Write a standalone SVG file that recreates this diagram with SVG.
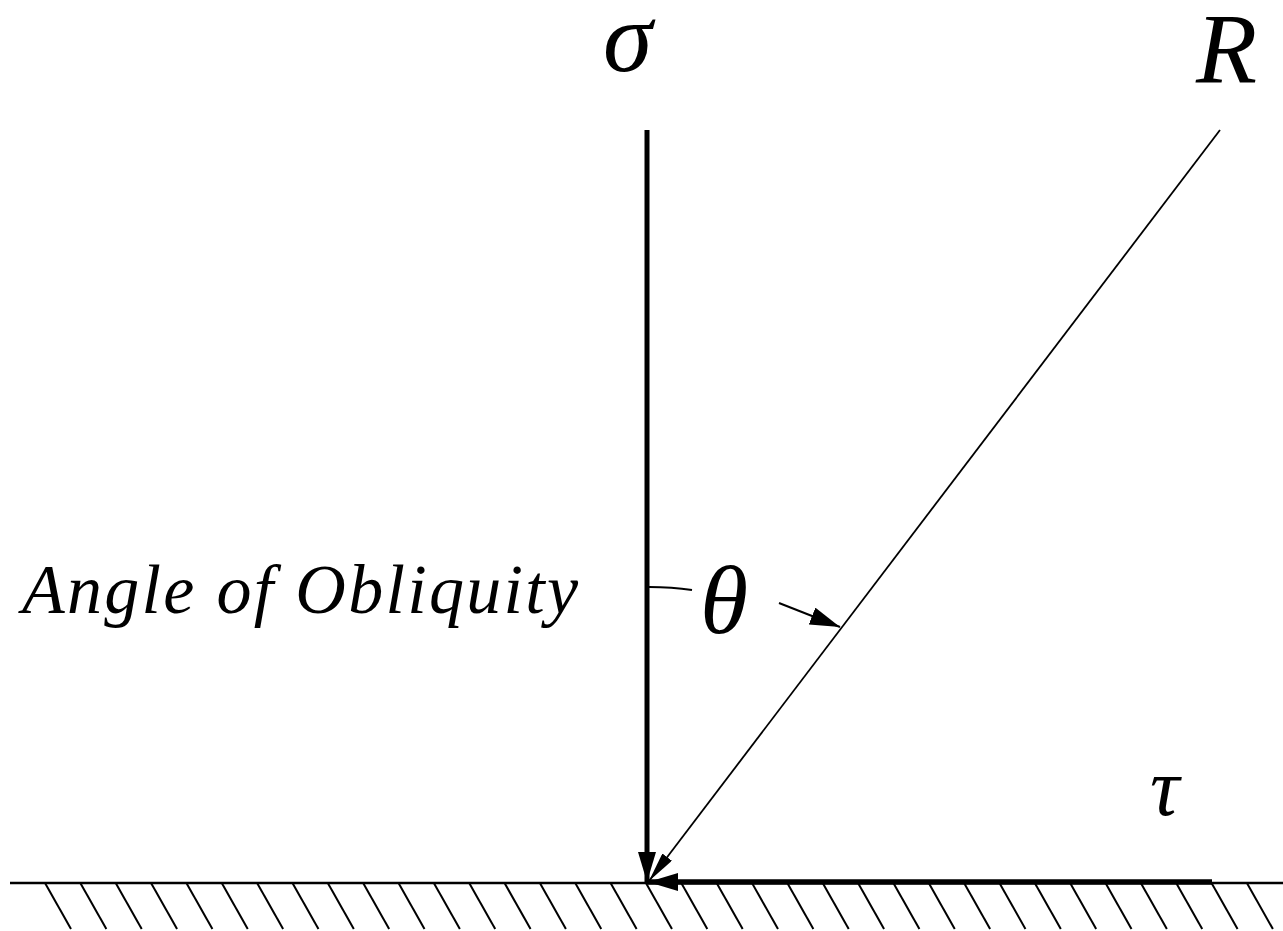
<svg xmlns="http://www.w3.org/2000/svg" width="1283" height="931" viewBox="0 0 1283 931">
<style>
text{font-family:'Liberation Serif','Times New Roman',serif;font-style:italic;fill:#000}
.hatch line{stroke:#000;stroke-width:2}
</style>
<defs>
<marker id="ahBig" markerUnits="userSpaceOnUse" viewBox="0 0 30 18" refX="30" refY="9" markerWidth="30" markerHeight="18" orient="auto"><path d="M0,0 L30,9 L0,18 Z" fill="#000"/></marker>
<marker id="ahThin" markerUnits="userSpaceOnUse" viewBox="0 0 30 12" refX="30" refY="6" markerWidth="30" markerHeight="12" orient="auto"><path d="M0,0 L30,6 L0,12 Z" fill="#000"/></marker>
</defs>
<rect width="1283" height="931" fill="#fff"/>
<g id="ground">
<line x1="10" y1="883" x2="1283" y2="883" stroke="#000" stroke-width="2.5"/>
<g class="hatch">
<line x1="45" y1="883" x2="71" y2="929"/><line x1="80.35" y1="883" x2="106.35" y2="929"/><line x1="115.7" y1="883" x2="141.7" y2="929"/><line x1="151.05" y1="883" x2="177.05" y2="929"/><line x1="186.4" y1="883" x2="212.4" y2="929"/><line x1="221.75" y1="883" x2="247.75" y2="929"/><line x1="257.1" y1="883" x2="283.1" y2="929"/><line x1="292.45" y1="883" x2="318.45" y2="929"/><line x1="327.8" y1="883" x2="353.8" y2="929"/><line x1="363.15" y1="883" x2="389.15" y2="929"/><line x1="398.5" y1="883" x2="424.5" y2="929"/><line x1="433.85" y1="883" x2="459.85" y2="929"/><line x1="469.2" y1="883" x2="495.2" y2="929"/><line x1="504.55" y1="883" x2="530.55" y2="929"/><line x1="539.9" y1="883" x2="565.9" y2="929"/><line x1="575.25" y1="883" x2="601.25" y2="929"/><line x1="610.6" y1="883" x2="636.6" y2="929"/><line x1="645.95" y1="883" x2="671.95" y2="929"/><line x1="681.3" y1="883" x2="707.3" y2="929"/><line x1="716.65" y1="883" x2="742.65" y2="929"/><line x1="752" y1="883" x2="778" y2="929"/><line x1="787.35" y1="883" x2="813.35" y2="929"/><line x1="822.7" y1="883" x2="848.7" y2="929"/><line x1="858.05" y1="883" x2="884.05" y2="929"/><line x1="893.4" y1="883" x2="919.4" y2="929"/><line x1="928.75" y1="883" x2="954.75" y2="929"/><line x1="964.1" y1="883" x2="990.1" y2="929"/><line x1="999.45" y1="883" x2="1025.45" y2="929"/><line x1="1034.8" y1="883" x2="1060.8" y2="929"/><line x1="1070.15" y1="883" x2="1096.15" y2="929"/><line x1="1105.5" y1="883" x2="1131.5" y2="929"/><line x1="1140.85" y1="883" x2="1166.85" y2="929"/><line x1="1176.2" y1="883" x2="1202.2" y2="929"/><line x1="1211.55" y1="883" x2="1237.55" y2="929"/><line x1="1246.9" y1="883" x2="1272.9" y2="929"/>
</g>
</g>
<g id="connectors" fill="none" stroke="#000">
<line id="sigma-arrow" x1="647" y1="130" x2="647" y2="882" stroke-width="5" marker-end="url(#ahBig)"/>
<line id="R-arrow" x1="1220" y1="130" x2="649" y2="881" stroke-width="1.8" marker-end="url(#ahThin)"/>
<line id="tau-arrow" x1="1212" y1="882" x2="648" y2="882" stroke-width="5.5" marker-end="url(#ahBig)"/>
<path id="angle-arc" d="M649,587 Q672,587 692,590" stroke-width="2"/>
<line id="theta-arrow" x1="779" y1="603" x2="840" y2="627" stroke-width="2" marker-end="url(#ahBig)"/>
</g>
<g id="sigma"><text x="603" y="71" font-size="100">σ</text></g>
<g id="R"><text x="1196" y="82" font-size="100">R</text></g>
<g id="tau"><text x="1150" y="815" font-size="82">τ</text></g>
<g id="theta"><text x="700" y="633" font-size="98">θ</text></g>
<g id="angle-label"><text x="22" y="613" font-size="70" textLength="556" lengthAdjust="spacing">Angle of Obliquity</text></g>
</svg>
